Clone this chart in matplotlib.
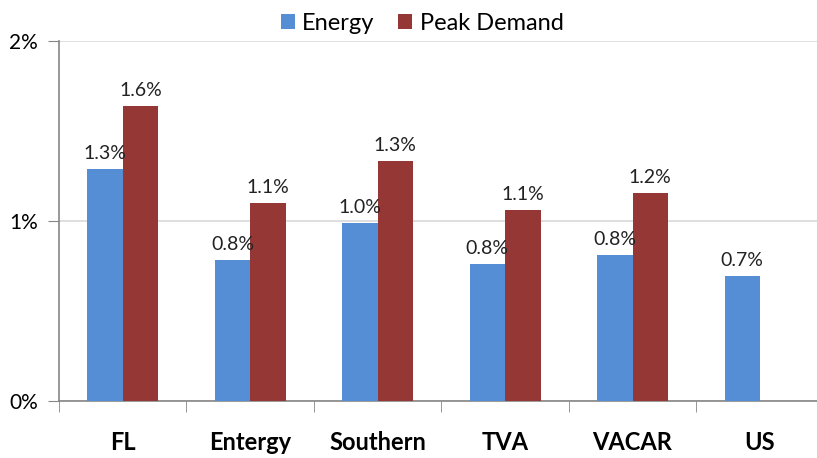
import numpy as np
import matplotlib.pyplot as plt
from matplotlib.ticker import FixedLocator

regions = ["FL", "Entergy", "Southern", "TVA", "VACAR", "US"]
energy = [1.29, 0.78, 0.99, 0.76, 0.81, 0.695]
peak = [1.64, 1.10, 1.33, 1.06, 1.155, np.nan]

blue = '#558ED5'
red = '#953735'
axis_grey = '#868686'

plt.rcParams['font.family'] = ['Lato', 'DejaVu Sans']

fig = plt.figure(figsize=(8.17, 4.58), dpi=100)
ax = fig.add_axes([0.0722, 0.1255, 0.936, 0.785])

x = np.arange(len(regions))
w = 0.278
b1 = ax.bar(x - w / 2, energy, w, color=blue, label='Energy', zorder=3)
b2 = ax.bar(x + w / 2, peak, w, color=red, label='Peak Demand', zorder=3)

for bars, vals in ((b1, energy), (b2, peak)):
    for r, v in zip(bars, vals):
        if np.isnan(v):
            continue
        ax.annotate(f"{v:.1f}%", (r.get_x() + r.get_width() / 2, v),
                    xytext=(0, 5), textcoords='offset points',
                    ha='center', va='bottom', fontsize=14, color='#222222')

ax.set_xlim(-0.5, len(regions) - 0.5)
ax.set_ylim(0, 2)
ax.set_yticks([0, 1, 2])
ax.set_yticklabels(['0%', '1%', '2%'], fontsize=15)
ax.yaxis.grid(True, color='#D9D9D9', linewidth=1.2, zorder=0)

ax.set_xticks(x)
ax.set_xticklabels(regions, fontsize=17, fontweight='bold')
ax.xaxis.set_minor_locator(FixedLocator(np.arange(-0.5, len(regions), 1.0)))
ax.tick_params(axis='x', which='major', length=0, pad=22)
ax.tick_params(axis='x', which='minor', length=8, color=axis_grey, direction='out')
ax.tick_params(axis='y', length=8, color=axis_grey, direction='out', pad=7)

for s in ('top', 'right'):
    ax.spines[s].set_visible(False)
for s in ('left', 'bottom'):
    ax.spines[s].set_color(axis_grey)
    ax.spines[s].set_linewidth(1.2)

ax.legend(loc='lower center', bbox_to_anchor=(0.475, 0.99), ncol=2, frameon=False,
          fontsize=17, handlelength=0.6, handleheight=0.6, handletextpad=0.3,
          columnspacing=1.0, borderaxespad=0.05)

fig.savefig('out.png', dpi=100)
